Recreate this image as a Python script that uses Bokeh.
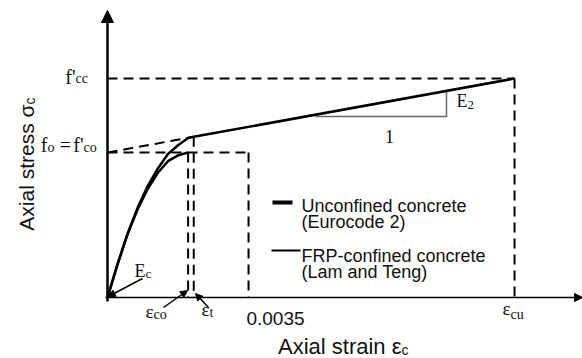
import math
from bokeh.plotting import figure
from bokeh.models import Range1d, Arrow, NormalHead, Label
from bokeh.embed import file_html
from bokeh.resources import INLINE

# ---------------- data (stress normalised by f'co) ----------
eps_co = 0.0020      # strain at peak of unconfined concrete
eps_t = 0.00214      # transition strain (Lam and Teng)
eps_u_uc = 0.0035    # ultimate strain, unconfined (Eurocode 2)
eps_cu = 0.0101      # ultimate strain, FRP-confined
f_co = 1.0           # f_o = f'co
f_cc = 1.51          # f'cc
sigma_t = 1.108      # stress at transition strain

uc_strain = [0, 0.00025, 0.0005, 0.00075, 0.001, 0.00125, 0.0015, 0.00175, 0.002]
uc_stress = [0, 0.23, 0.44, 0.61, 0.75, 0.86, 0.94, 0.98, 1.0]

frp_strain = [0, 0.00025, 0.0005, 0.00075, 0.001, 0.00125, 0.0015, 0.00175, 0.002, 0.00214, 0.0101]
frp_stress = [0, 0.23, 0.44, 0.62, 0.77, 0.89, 0.99, 1.05, 1.10, 1.108, 1.51]

tick_label_uc = "0.0035"
legend_labels = ["Unconfined concrete", "(Eurocode 2)", "FRP-confined concrete", "(Lam and Teng)"]

# ---------------- layout helpers (pixel -> data) ----------------
W, H = 582, 358
OX, OY = 107, 297          # pixel position of the origin
SX, SY = 40300.0, 145.0    # pixels per unit strain / unit stress
TSHIFT = 7                 # text baseline correction


def X(px):
    return (px - OX) / SX


def Y(py):
    return (OY - py) / SY


p = figure(width=W, height=H, x_range=Range1d(X(0), X(W)), y_range=Range1d(Y(H), Y(0)),
           output_backend="svg", toolbar_location=None,
           x_axis_location=None, y_axis_location=None,
           min_border=0, outline_line_color=None, background_fill_color="white")
p.grid.grid_line_color = None

DASH = "10 6"
# dashed guide lines
guides_x = [[0, eps_cu], [eps_cu, eps_cu], [0, eps_u_uc], [eps_u_uc, eps_u_uc],
            [eps_co, eps_co], [eps_t, eps_t], [0, eps_t]]
guides_y = [[f_cc, f_cc], [f_cc, 0], [f_co, f_co], [f_co, 0],
            [f_co, 0], [sigma_t, 0], [f_co, sigma_t]]
p.multi_line(guides_x, guides_y, line_color="black", line_width=2, line_dash=DASH)

# slope triangle
tri_x0, tri_x1 = X(315), X(446)
tri_y = Y(116)
slope = (f_cc - sigma_t) / (eps_cu - eps_t)
tri_top = sigma_t + slope * (tri_x1 - eps_t)
p.line([tri_x0, tri_x1, tri_x1], [tri_y, tri_y, tri_top], line_color="#666666", line_width=1.5)

# curves
p.line(uc_strain, uc_stress, line_color="black", line_width=2.5)
p.line(frp_strain, frp_stress, line_color="black", line_width=2.5)

# axes with arrows
p.add_layout(Arrow(x_start=0, y_start=Y(301), x_end=0, y_end=Y(10), line_width=2.5,
                   end=NormalHead(size=12, fill_color="black", line_color="black", line_width=1)))
p.add_layout(Arrow(x_start=X(105), y_start=0, x_end=X(582), y_end=0, line_width=1.5,
                   end=NormalHead(size=8, fill_color="black", line_color="black", line_width=1)))

# small pointer arrows
for (sx, sy, ex, ey) in [(X(142), Y(278), 0.00002, Y(296)),
                         (X(163), Y(307), X(187), Y(290)),
                         (X(208), Y(307), X(195), Y(293))]:
    p.add_layout(Arrow(x_start=sx, y_start=sy, x_end=ex, y_end=ey, line_width=1.5,
                       end=NormalHead(size=7, fill_color="black", line_color="black", line_width=1)))

SERIF = "Liberation Serif"
SANS = "Liberation Sans"
TXT = "#111111"


def lab(px, py, text, font, size, align="left", color=TXT):
    p.add_layout(Label(x=X(px), y=Y(py - TSHIFT), text=text, text_font=font,
                       text_font_size=f"{size}px", text_align=align,
                       text_baseline="alphabetic", text_color=color))


def vlab(px, py, text, font, size, align="left", color=TXT):
    # text rotated 90 degrees (reads bottom to top); baseline correction along x
    p.add_layout(Label(x=X(px - TSHIFT), y=Y(py), text=text, text_font=font,
                       text_font_size=f"{size}px", text_align=align,
                       text_baseline="alphabetic", angle=math.pi / 2, text_color=color))


# f'cc
lab(75, 83, "f'", SERIF, 20, "right")
lab(75, 85, "cc", SERIF, 14)
# fo = f'co
lab(47, 151, "f", SERIF, 20, "right")
lab(47, 154, "o", SERIF, 14)
lab(65, 151, "=", SERIF, 20, "center")
lab(83, 151, "f'", SERIF, 20, "right")
lab(83, 154, "co", SERIF, 14)
# Ec
lab(145, 277, "E", SERIF, 18, "right")
lab(145, 280, "c", SERIF, 13)
# E2
lab(467, 107, "E", SERIF, 18, "right")
lab(467, 111, "2", SERIF, 13)
# 1
lab(389, 143, "1", SERIF, 18, "center")
# strain labels
lab(153, 318, "\u03b5", SERIF, 19, "right")
lab(153, 321, "co", SERIF, 14)
lab(209, 316, "\u03b5", SERIF, 19, "right")
lab(209, 319, "t", SERIF, 14)
lab(510, 315, "\u03b5", SERIF, 19, "right")
lab(510, 321, "cu", SERIF, 14)
lab(275, 325, tick_label_uc, SANS, 19, "center")

# axis titles
lab(401, 353, "Axial strain \u03b5", SANS, 22, "right")
lab(401, 356, "c", SANS, 14)
vlab(33, 104, "Axial stress \u03c3", SANS, 21, "right")
vlab(36, 104, "c", SANS, 14, "left")

# legend
p.line([X(272), X(292)], [Y(202), Y(202)], line_color="black", line_width=4)
p.line([X(271), X(300)], [Y(250), Y(250)], line_color="black", line_width=2)
lab(301, 212, legend_labels[0], SANS, 18)
lab(301, 228, legend_labels[1], SANS, 18)
lab(301, 262, legend_labels[2], SANS, 18)
lab(301, 278, legend_labels[3], SANS, 18)

open("out.html", "w").write(file_html(p, INLINE))
